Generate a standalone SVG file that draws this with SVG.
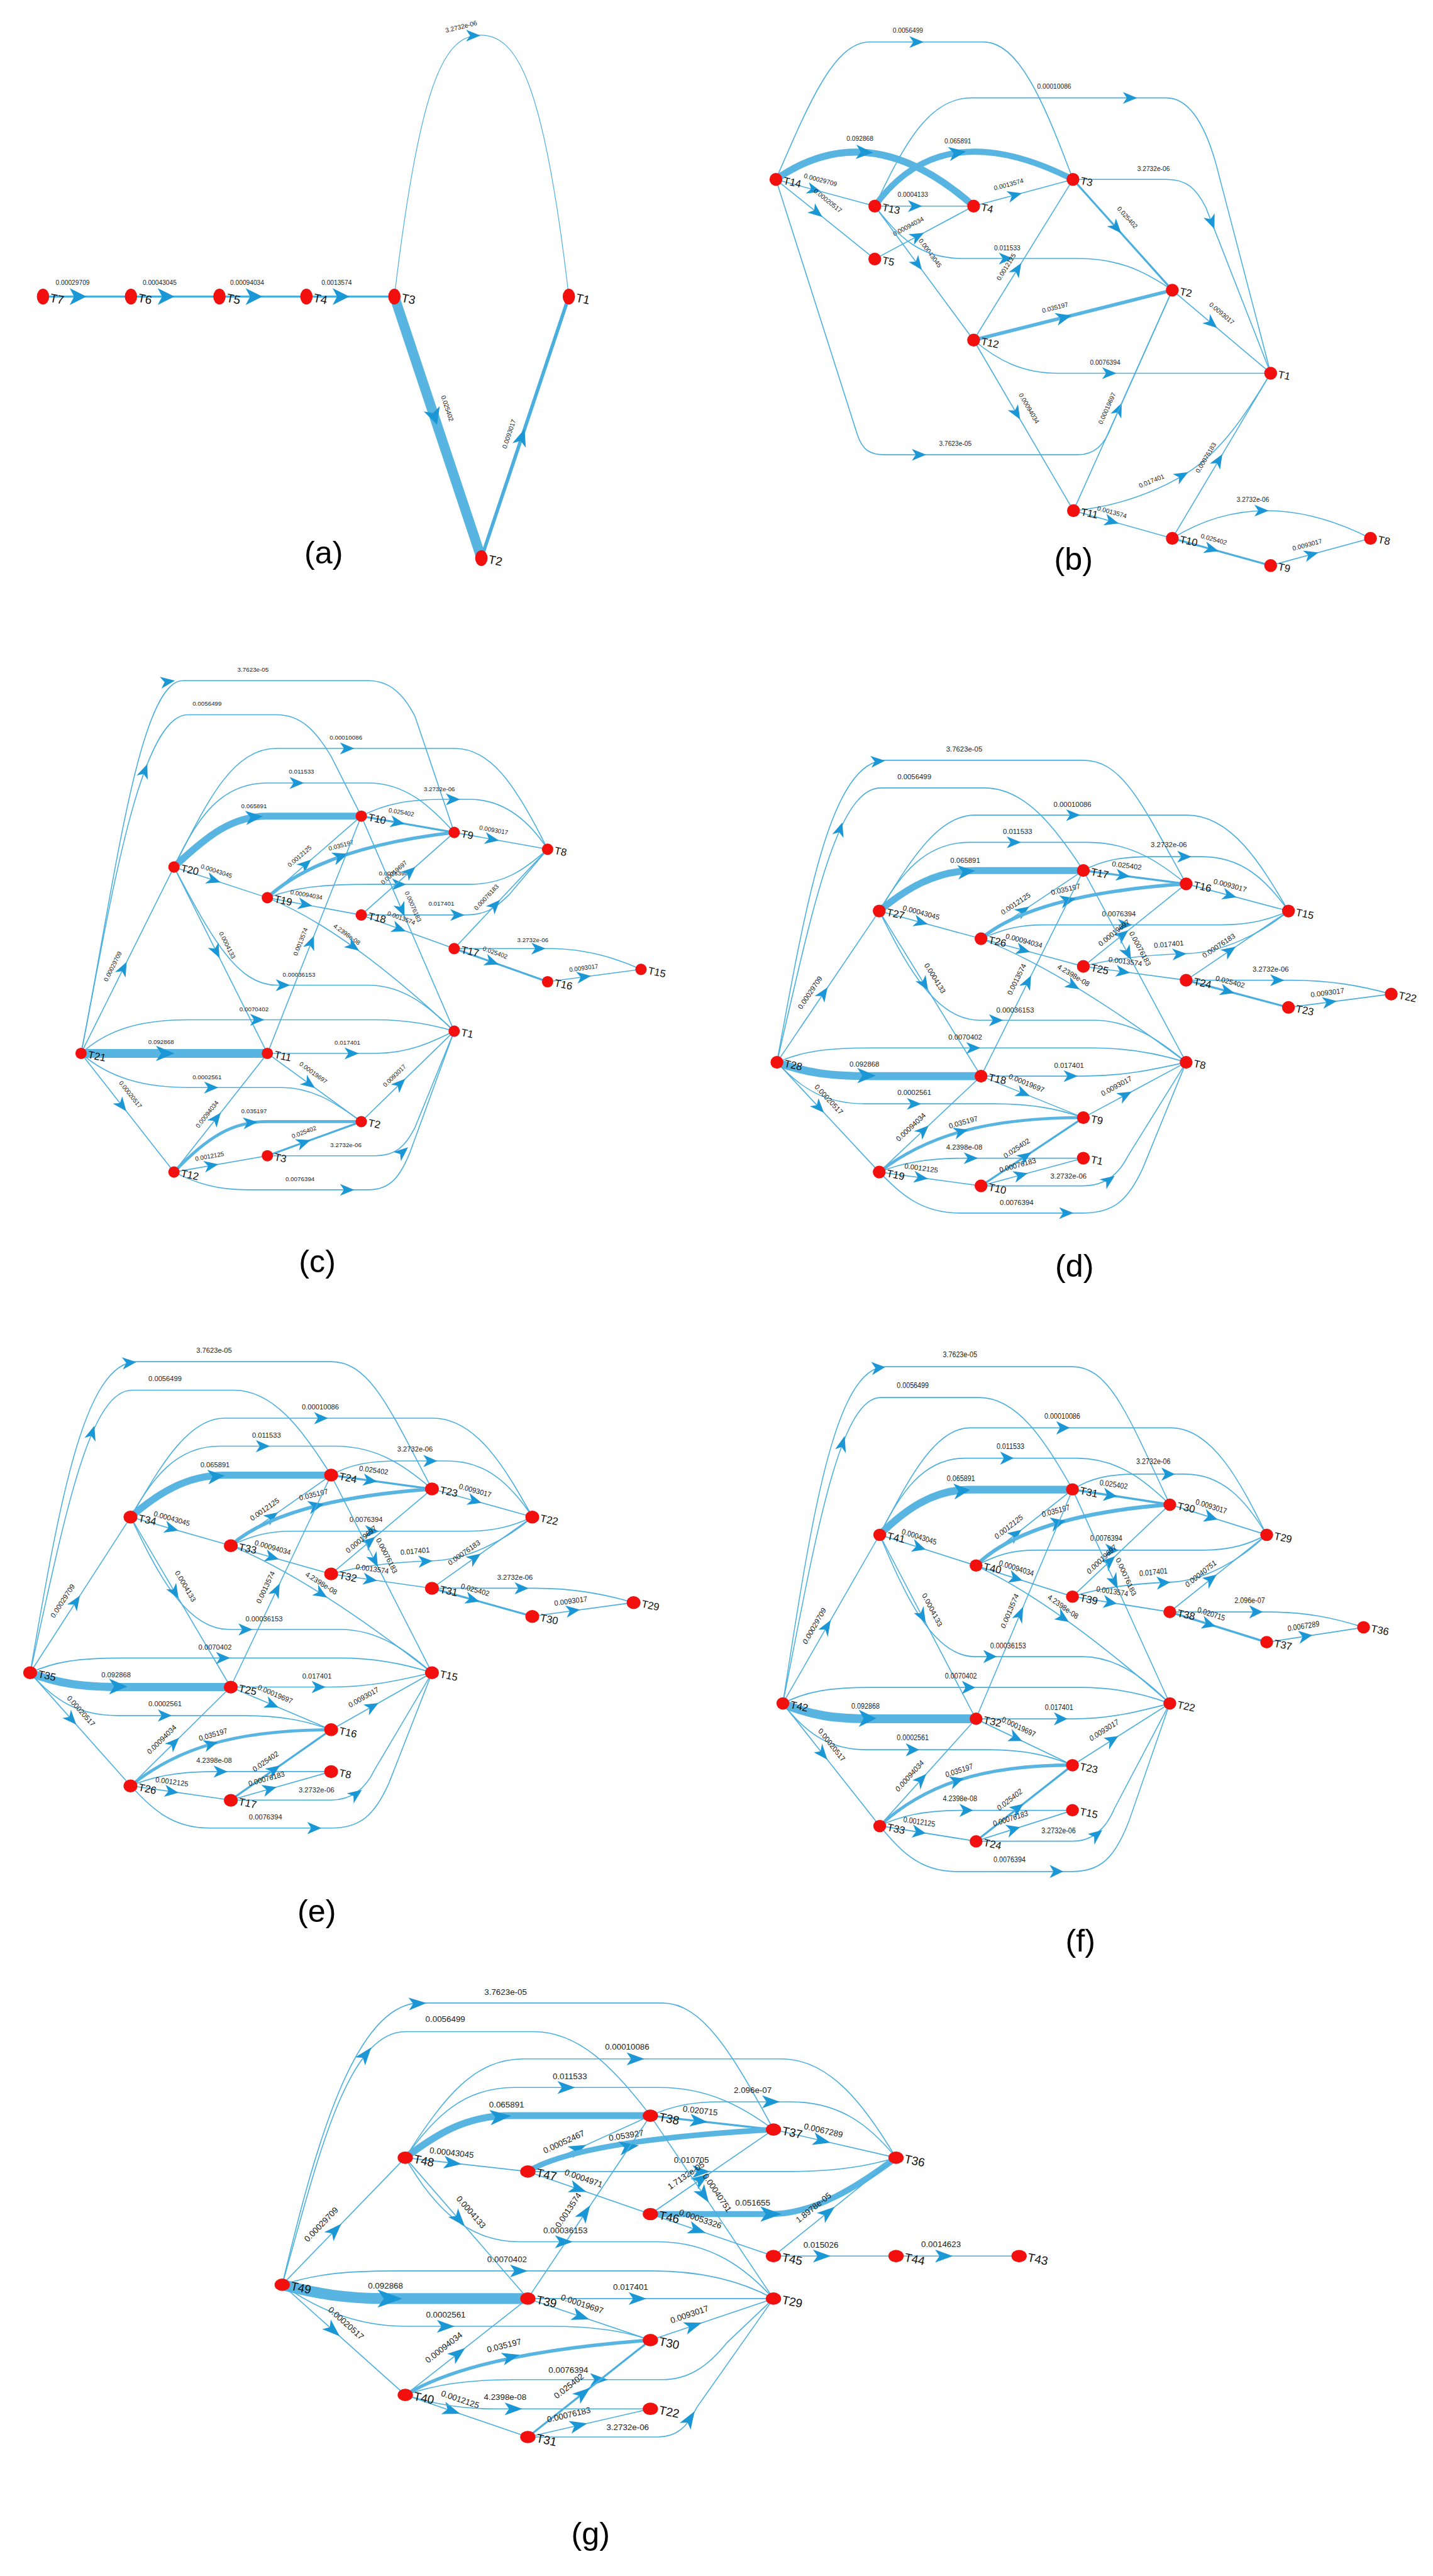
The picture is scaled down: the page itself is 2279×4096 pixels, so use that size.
<svg xmlns="http://www.w3.org/2000/svg" width="2279" height="4096" viewBox="0 0 2279 4096">
<style>
.e{fill:none;stroke:#4aafdf;stroke-width:2}
.w4{stroke-width:4}
.w7{stroke-width:7}
.tk{stroke:#58b5e1}
.ah{fill:#1b97d5}
.el{font-family:"Liberation Sans",Arial,sans-serif;fill:#222;text-anchor:middle;dominant-baseline:central}
.fa{font-size:13px}.fb{font-size:13px}.fc{font-size:12.5px}.ft{font-size:14.5px}.fg{font-size:17px}
.nd{fill:#f2100e}
.nl{font-family:"Liberation Sans",Arial,sans-serif;fill:#111;font-size:21px}
.na{font-size:24px}.ng{font-size:24px}
.pl{font-family:"Liberation Sans",Arial,sans-serif;font-size:64px;fill:#000;text-anchor:middle}
</style>
<defs>
<path id="ar" d="M14,0 L-15,-12 L-7,0 L-15,12 Z"/>
<path id="arA" d="M17,0 L-17,-17 L-8,0 L-17,17 Z"/>
<path id="arG" d="M18,0 L-18,-13 L-9,0 L-18,13 Z"/>
<g id="tpl">
<path class="e" d="M0,0 C70,-300 120,-555 210,-555 L420,-555 C500,-555 560,-480 620,-388"/>
<use href="#ar" class="ah" transform="translate(128,-472) rotate(-72)"/>
<text class="el ft" x="278" y="-578">0.0056499</text>
<path class="e" d="M0,0 C60,-330 110,-611 220,-611 L620,-611 C700,-611 740,-520 828,-361"/>
<use href="#ar" class="ah" transform="translate(205,-609) rotate(-5)"/>
<text class="el ft" x="379" y="-634">3.7623e-05</text>
<path class="e" d="M207,-306 C260,-390 320,-500 400,-500 L830,-500 C920,-500 980,-400 1035,-306"/>
<use href="#ar" class="ah" transform="translate(600,-500)"/>
<text class="el ft" x="598" y="-522">0.00010086</text>
<path class="e" d="M207,-306 C250,-380 300,-445 390,-445 L630,-445 C720,-445 780,-400 828,-361"/>
<use href="#ar" class="ah" transform="translate(480,-445)"/>
<text class="el ft" x="487" y="-467">0.011533</text>
<path class="e" d="M620,-388 C660,-410 700,-416 760,-416 L860,-416 C940,-416 990,-370 1035,-306"/>
<use href="#ar" class="ah" transform="translate(825,-416)"/>
<text class="el ft" x="793" y="-440">3.2732e-06</text>
<path class="e tk" style="stroke-width:14" d="M207,-306 C260,-350 320,-388 400,-388 L620,-388"/>
<use href="#ar" class="ah" transform="translate(384,-386) rotate(-5) scale(1.2)"/>
<text class="el ft" x="381" y="-409">0.065891</text>
<path class="e w4" d="M620,-388 L828,-361"/>
<use href="#ar" class="ah" transform="translate(701,-377.5) rotate(7.4)"/>
<text class="el ft" transform="translate(708,-398) rotate(7.4)">0.025402</text>
<path class="e" d="M828,-361 L1035,-306"/>
<use href="#ar" class="ah" transform="translate(916.6,-337.5) rotate(14.9)"/>
<text class="el ft" transform="translate(917,-358) rotate(14.9)">0.0093017</text>
<path class="e" d="M207,-306 L413,-250"/>
<use href="#ar" class="ah" transform="translate(292,-283) rotate(15.2)"/>
<text class="el ft" transform="translate(292,-303) rotate(15.2)">0.00043045</text>
<path class="e" d="M413,-250 L620,-388"/>
<use href="#ar" class="ah" transform="translate(499,-307.3) rotate(-33.7)"/>
<text class="el ft" transform="translate(483,-321) rotate(-33.7)">0.0012125</text>
<path class="e tk w7" d="M413,-250 Q520,-340 828,-361"/>
<use href="#ar" class="ah" transform="translate(590,-328) rotate(-13) scale(1.1)"/>
<text class="el ft" transform="translate(584,-350) rotate(-13)">0.035197</text>
<path class="e" d="M413,-250 C460,-270 490,-278 540,-278 L900,-278 C960,-278 1000,-290 1035,-306"/>
<use href="#ar" class="ah" transform="translate(705,-278)"/>
<text class="el ft" x="692" y="-301">0.0076394</text>
<path class="e" d="M620,-194 L828,-361"/>
<use href="#ar" class="ah" transform="translate(700,-258.2) rotate(-38.8)"/>
<text class="el ft" transform="translate(682,-262) rotate(-38.8)">0.00019697</text>
<path class="e" d="M413,-250 L620,-194"/>
<use href="#ar" class="ah" transform="translate(499,-226.7) rotate(15.1)"/>
<text class="el ft" transform="translate(500,-246) rotate(15.1)">0.00094034</text>
<path class="e" d="M620,-194 C680,-210 760,-218 830,-220 C900,-222 980,-260 1035,-306"/>
<use href="#ar" class="ah" transform="translate(815,-219) rotate(-3)"/>
<text class="el ft" transform="translate(793,-239) rotate(-5)">0.017401</text>
<path class="e" d="M620,-388 L828,0"/>
<use href="#ar" class="ah" transform="translate(710,-220) rotate(61.8)"/>
<text class="el ft" transform="translate(735,-230) rotate(61.8)">0.00076183</text>
<path class="e" d="M620,-194 L828,-166"/>
<use href="#ar" class="ah" transform="translate(701,-183) rotate(7.7)"/>
<text class="el ft" transform="translate(705,-204) rotate(7.7)">0.0013574</text>
<path class="e" d="M828,-166 L1035,-306"/>
<use href="#ar" class="ah" transform="translate(916.6,-226) rotate(-34)"/>
<path class="e" d="M828,-166 L1040,-166 C1120,-166 1180,-155 1243,-138"/>
<use href="#ar" class="ah" transform="translate(1013,-166)"/>
<path class="e w4" d="M828,-166 L1035,-111"/>
<use href="#ar" class="ah" transform="translate(912,-143.7) rotate(14.9)"/>
<path class="e" d="M1035,-111 L1243,-138"/>
<use href="#ar" class="ah" transform="translate(1119,-122) rotate(-7.4)"/>
<path class="e" d="M413,-250 Q580,-185 828,0"/>
<use href="#ar" class="ah" transform="translate(600,-155) rotate(31)"/>
<text class="el ft" transform="translate(600,-176) rotate(31)">4.2398e-08</text>
<path class="e" d="M413,28 L620,-388"/>
<use href="#ar" class="ah" transform="translate(508,-163) rotate(-63.5)"/>
<text class="el ft" transform="translate(485,-168) rotate(-63.5)">0.0013574</text>
<path class="e" d="M207,-306 C260,-200 320,-85 410,-85 L640,-85 C720,-85 780,-40 828,0"/>
<use href="#ar" class="ah" transform="translate(444,-85)"/>
<text class="el ft" x="482" y="-106">0.00036153</text>
<path class="e" d="M207,-306 L413,28"/>
<use href="#ar" class="ah" transform="translate(298.5,-157.6) rotate(58.3)"/>
<text class="el ft" transform="translate(320,-170) rotate(58.3)">0.0004133</text>
<path class="e" d="M0,0 L207,-306"/>
<use href="#ar" class="ah" transform="translate(94.6,-139.8) rotate(-55.9)"/>
<text class="el ft" transform="translate(67,-141) rotate(-55.9)">0.00029709</text>
<path class="e tk" style="stroke-width:16" d="M0,0 C60,22 110,28 190,28 L413,28"/>
<use href="#ar" class="ah" transform="translate(182,27) scale(1.3)"/>
<text class="el ft" x="177" y="4">0.092868</text>
<path class="e" d="M0,0 C50,-22 100,-29 190,-29 L640,-29 C720,-29 780,-15 828,0"/>
<use href="#ar" class="ah" transform="translate(398,-29)"/>
<text class="el ft" x="381" y="-51">0.0070402</text>
<path class="e" d="M413,28 L620,28 C700,28 760,15 828,0"/>
<use href="#ar" class="ah" transform="translate(595,28)"/>
<text class="el ft" x="591" y="6">0.017401</text>
<path class="e" d="M413,28 L620,112"/>
<use href="#ar" class="ah" transform="translate(499,62.9) rotate(22.1)"/>
<text class="el ft" transform="translate(505,42) rotate(22.1)">0.00019697</text>
<path class="e" d="M0,0 C50,55 100,84 180,84 L440,84 C520,84 570,95 620,112"/>
<use href="#ar" class="ah" transform="translate(278,84)"/>
<text class="el ft" x="278" y="61">0.0002561</text>
<path class="e" d="M0,0 L207,222"/>
<use href="#ar" class="ah" transform="translate(85.5,91.7) rotate(47)"/>
<text class="el ft" transform="translate(105,75) rotate(47)">0.00020517</text>
<path class="e" d="M207,222 L413,28"/>
<use href="#ar" class="ah" transform="translate(296.7,137.5) rotate(-43.3)"/>
<text class="el ft" transform="translate(271,131) rotate(-43.3)">0.00094034</text>
<path class="e tk" style="stroke-width:6" d="M207,222 C300,150 420,112 620,112"/>
<use href="#ar" class="ah" transform="translate(373,140) rotate(-15.5)"/>
<text class="el ft" transform="translate(377,121) rotate(-15.5)">0.035197</text>
<path class="e" d="M207,222 C250,205 300,194 380,194 L620,194"/>
<use href="#ar" class="ah" transform="translate(393,194)"/>
<text class="el ft" x="379" y="172">4.2398e-08</text>
<path class="e w4" d="M413,250 L620,112"/>
<use href="#ar" class="ah" transform="translate(503,190) rotate(-33.7)"/>
<text class="el ft" transform="translate(485,174) rotate(-33.7)">0.025402</text>
<path class="e" d="M413,250 L620,194"/>
<use href="#ar" class="ah" transform="translate(494,228) rotate(-15.1)"/>
<text class="el ft" transform="translate(487,208) rotate(-15.1)">0.00076183</text>
<path class="e" d="M207,222 L413,250"/>
<use href="#ar" class="ah" transform="translate(292,233.6) rotate(7.7)"/>
<text class="el ft" transform="translate(292,214) rotate(7.7)">0.0012125</text>
<path class="e" d="M413,250 L620,250 C660,250 690,230 710,190 L828,0"/>
<use href="#ar" class="ah" transform="translate(672,238) rotate(-35)"/>
<text class="el ft" x="590" y="230">3.2732e-06</text>
<path class="e" d="M207,222 C250,265 290,305 370,305 L620,305 C680,305 710,280 740,215 L828,0"/>
<use href="#ar" class="ah" transform="translate(586,305)"/>
<text class="el ft" x="485" y="283">0.0076394</text>
<path class="e" d="M620,112 L828,0"/>
<use href="#ar" class="ah" transform="translate(705.4,66) rotate(-28.3)"/>
<text class="el ft" transform="translate(687,48) rotate(-28.3)">0.0093017</text>
</g>
</defs>
<rect width="2279" height="4096" fill="#ffffff"/>
<g transform="scale(0.786)">

<g id="connectors">
<g id="conn-a">
<path class="e" style="stroke-width:4" d="M87,600 L265,600"/>
<path class="e" style="stroke-width:4" d="M265,600 L444,600"/>
<path class="e" style="stroke-width:4" d="M444,600 L620,600"/>
<path class="e" style="stroke-width:4" d="M620,600 L798,600"/>
<path class="e" style="stroke-width:1.5" d="M798,600 C850,160 900,71 972,71 C1045,71 1100,160 1151,600"/>
<path class="e tk" style="stroke-width:20" d="M798,600 L974,1129"/>
<path class="e" style="stroke-width:7" d="M974,1129 L1151,600"/>
<use href="#arA" class="ah" transform="translate(158,600)"/>
<use href="#arA" class="ah" transform="translate(336,600)"/>
<use href="#arA" class="ah" transform="translate(514,600)"/>
<use href="#arA" class="ah" transform="translate(690,600)"/>
<use href="#ar" class="ah" transform="translate(958,72)"/>
<use href="#arA" class="ah" transform="translate(879,843) rotate(71.6)"/>
<use href="#ar" class="ah" transform="translate(1056,884) rotate(-71.5) scale(1.2)"/>
<text class="el fa" x="147" y="572">0.00029709</text>
<text class="el fa" x="323" y="572">0.00043045</text>
<text class="el fa" x="500" y="572">0.00094034</text>
<text class="el fa" x="681" y="572">0.0013574</text>
<text class="el fa" transform="translate(933,54) rotate(-14)">3.2732e-06</text>
<text class="el fa" transform="translate(905,826) rotate(71.6)">0.025402</text>
<text class="el fa" transform="translate(1030,878) rotate(-71.5)">0.0093017</text>
</g>

<g id="conn-b">
<path class="e" d="M1570,363 C1640,200 1690,85 1760,85 L1990,85 C2060,85 2110,200 2171,363"/>
<use href="#ar" class="ah" transform="translate(1855,85)"/>
<text class="el fb" x="1837" y="62">0.0056499</text>
<path class="e" d="M1770,417 C1830,290 1880,198 1965,198 L2360,198 C2410,198 2440,260 2460,330 L2571,755"/>
<use href="#ar" class="ah" transform="translate(2287,198)"/>
<text class="el fb" x="2133" y="175">0.00010086</text>
<path class="e tk" style="stroke-width:14" d="M1570,363 Q1760,230 1970,417"/>
<use href="#ar" class="ah" transform="translate(1750,308) rotate(3) scale(1.2)"/>
<text class="el fb" x="1740" y="280">0.092868</text>
<path class="e tk" style="stroke-width:12" d="M1770,417 Q1905,228 2171,363"/>
<use href="#ar" class="ah" transform="translate(1938,309) rotate(-8) scale(1.2)"/>
<text class="el fb" x="1938" y="286">0.065891</text>
<path class="e" d="M1570,363 L1770,417"/>
<use href="#ar" class="ah" transform="translate(1648,384) rotate(15.1)"/>
<text class="el fb" transform="translate(1660,364) rotate(15.1)">0.00029709</text>
<path class="e" d="M1570,363 L1770,524"/>
<use href="#ar" class="ah" transform="translate(1653,430) rotate(38.8)"/>
<text class="el fb" transform="translate(1675,406) rotate(38.8)">0.00020517</text>
<path class="e" d="M1770,417 L1970,417"/>
<use href="#ar" class="ah" transform="translate(1852,417)"/>
<text class="el fb" x="1847" y="394">0.0004133</text>
<path class="e" d="M1770,524 L1970,417"/>
<use href="#ar" class="ah" transform="translate(1857,477.5) rotate(-28.1)"/>
<text class="el fb" transform="translate(1838,458) rotate(-28.1)">0.00094034</text>
<path class="e" d="M1770,417 L1970,688"/>
<use href="#ar" class="ah" transform="translate(1857,535) rotate(53.6)"/>
<text class="el fb" transform="translate(1882,512) rotate(53.6)">0.00043045</text>
<path class="e" d="M1970,417 L2171,363"/>
<use href="#ar" class="ah" transform="translate(2054,394.5) rotate(-15)"/>
<text class="el fb" transform="translate(2041,373) rotate(-15)">0.0013574</text>
<path class="e" d="M1770,417 C1820,480 1860,523 1950,523 L2180,523 C2260,523 2310,545 2372,587"/>
<use href="#ar" class="ah" transform="translate(2036,523)"/>
<text class="el fb" x="2038" y="502">0.011533</text>
<path class="e" d="M1970,688 L2171,363"/>
<use href="#ar" class="ah" transform="translate(2059,544) rotate(-58.3)"/>
<text class="el fb" transform="translate(2036,540) rotate(-58.3)">0.0012125</text>
<path class="e w4" d="M2171,363 L2372,587"/>
<use href="#ar" class="ah" transform="translate(2259,461) rotate(48.1)"/>
<text class="el fb" transform="translate(2281,440) rotate(48.1)">0.025402</text>
<path class="e" d="M2171,363 L2360,363 C2400,363 2420,380 2440,420 L2571,755"/>
<use href="#ar" class="ah" transform="translate(2452,450) rotate(68.6)"/>
<text class="el fb" x="2334" y="342">3.2732e-06</text>
<path class="e tk w7" d="M1970,688 L2372,587"/>
<use href="#ar" class="ah" transform="translate(2153,642) rotate(-14.1) scale(1.1)"/>
<text class="el fb" transform="translate(2135,622) rotate(-14.1)">0.035197</text>
<path class="e" d="M2372,587 L2571,755"/>
<use href="#ar" class="ah" transform="translate(2452,654.5) rotate(40.2)"/>
<text class="el fb" transform="translate(2472,634) rotate(40.2)">0.0093017</text>
<path class="e" d="M1970,688 C2020,730 2070,755 2140,755 L2571,755"/>
<use href="#ar" class="ah" transform="translate(2245,755)"/>
<text class="el fb" x="2236" y="733">0.0076394</text>
<path class="e" d="M1970,688 L2172,1033"/>
<use href="#ar" class="ah" transform="translate(2057,836.6) rotate(59.7)"/>
<text class="el fb" transform="translate(2082,826) rotate(59.7)">0.00094034</text>
<path class="e" d="M2172,1033 L2372,587"/>
<use href="#ar" class="ah" transform="translate(2264,828) rotate(-65.8)"/>
<text class="el fb" transform="translate(2240,826) rotate(-65.8)">0.00019697</text>
<path class="e" d="M1570,363 L1735,880 C1745,910 1760,920 1790,920 L2180,920 C2215,920 2235,900 2250,860 L2372,587"/>
<use href="#ar" class="ah" transform="translate(1860,920)"/>
<text class="el fb" x="1933" y="898">3.7623e-05</text>
<path class="e" d="M2172,1033 C2260,1025 2340,995 2400,958 C2470,915 2520,840 2571,755"/>
<use href="#ar" class="ah" transform="translate(2392,962) rotate(-30)"/>
<text class="el fb" transform="translate(2330,973) rotate(-22)">0.017401</text>
<path class="e" d="M2172,1033 L2372,1089"/>
<use href="#ar" class="ah" transform="translate(2250,1055) rotate(15.6)"/>
<text class="el fb" transform="translate(2250,1036) rotate(15.6)">0.0013574</text>
<path class="e" d="M2372,1089 L2571,755"/>
<use href="#ar" class="ah" transform="translate(2466,931) rotate(-59.2)"/>
<text class="el fb" transform="translate(2440,926) rotate(-59.2)">0.00076183</text>
<path class="e" d="M2372,1089 Q2552,977 2773,1089"/>
<use href="#ar" class="ah" transform="translate(2553,1033)"/>
<text class="el fb" x="2535" y="1011">3.2732e-06</text>
<path class="e w4" d="M2372,1089 L2571,1144"/>
<use href="#ar" class="ah" transform="translate(2452,1111) rotate(15.4)"/>
<text class="el fb" transform="translate(2456,1091) rotate(15.4)">0.025402</text>
<path class="e" d="M2571,1144 L2773,1089"/>
<use href="#ar" class="ah" transform="translate(2654,1121.4) rotate(-15.2)"/>
<text class="el fb" transform="translate(2645,1102) rotate(-15.2)">0.0093017</text>
</g>

<g id="conn-c">
<path class="e" d="M164,2131 C220,1850 280,1446 380,1446 L560,1446 C610,1446 640,1480 670,1530 L731,1651"/>
<use href="#ar" class="ah" transform="translate(293,1559) rotate(-69)"/>
<text class="el fc" x="419" y="1423">0.0056499</text>
<path class="e" d="M164,2131 C230,1800 280,1377 370,1377 L745,1377 C785,1377 815,1400 840,1450 L919,1684"/>
<use href="#ar" class="ah" transform="translate(340,1379) rotate(-8)"/>
<text class="el fc" x="512" y="1354">3.7623e-05</text>
<path class="e" d="M352,1754 C420,1620 470,1514 560,1514 L920,1514 C990,1514 1040,1580 1108,1718"/>
<use href="#ar" class="ah" transform="translate(703,1514)"/>
<text class="el fc" x="700" y="1492">0.00010086</text>
<path class="e" d="M352,1754 C400,1650 450,1584 540,1584 L745,1584 C820,1584 870,1630 919,1684"/>
<use href="#ar" class="ah" transform="translate(601,1584)"/>
<text class="el fc" x="610" y="1561">0.011533</text>
<path class="e" d="M731,1651 C780,1625 830,1617 900,1617 L950,1617 C1020,1617 1070,1660 1108,1718"/>
<use href="#ar" class="ah" transform="translate(917,1617)"/>
<text class="el fc" x="889" y="1596">3.2732e-06</text>
<path class="e tk" style="stroke-width:14" d="M352,1754 C420,1690 470,1651 540,1651 L731,1651"/>
<use href="#ar" class="ah" transform="translate(515,1653) rotate(-5) scale(1.2)"/>
<text class="el fc" x="514" y="1630">0.065891</text>
<path class="e w4" d="M731,1651 L919,1684"/>
<use href="#ar" class="ah" transform="translate(805,1664) rotate(10)"/>
<text class="el fc" transform="translate(812,1643) rotate(10)">0.025402</text>
<path class="e" d="M919,1684 L1108,1718"/>
<use href="#ar" class="ah" transform="translate(996,1698) rotate(10.2)"/>
<text class="el fc" transform="translate(999,1679) rotate(10.2)">0.0093017</text>
<path class="e" d="M352,1754 L541,1816"/>
<use href="#ar" class="ah" transform="translate(433,1780.6) rotate(18.2)"/>
<text class="el fc" transform="translate(438,1762) rotate(18.2)">0.00043045</text>
<path class="e" d="M541,1816 L731,1651"/>
<use href="#ar" class="ah" transform="translate(619,1748) rotate(-41)"/>
<text class="el fc" transform="translate(606,1732) rotate(-41)">0.0012125</text>
<path class="e tk w7" d="M541,1816 Q650,1715 919,1684"/>
<use href="#ar" class="ah" transform="translate(690,1732) rotate(-19) scale(1.1)"/>
<text class="el fc" transform="translate(690,1710) rotate(-15)">0.035197</text>
<path class="e" d="M541,1816 C600,1795 650,1789 745,1789 L950,1789 C1020,1789 1060,1760 1108,1718"/>
<use href="#ar" class="ah" transform="translate(808,1789)"/>
<text class="el fc" x="796" y="1766">0.0076394</text>
<path class="e" d="M731,1851 L919,1684"/>
<use href="#ar" class="ah" transform="translate(830,1763) rotate(-41.6)"/>
<text class="el fc" transform="translate(797,1765) rotate(-41.6)">0.00019697</text>
<path class="e" d="M541,1816 L731,1851"/>
<use href="#ar" class="ah" transform="translate(618,1830) rotate(10.4)"/>
<text class="el fc" transform="translate(620,1810) rotate(10.4)">0.00094034</text>
<path class="e" d="M731,1851 L940,1851 C980,1851 1000,1840 1030,1810 L1108,1718"/>
<use href="#ar" class="ah" transform="translate(926,1851)"/>
<text class="el fc" x="893" y="1827">0.017401</text>
<path class="e" d="M731,1651 L919,2086"/>
<use href="#ar" class="ah" transform="translate(813,1841) rotate(66.6)"/>
<text class="el fc" transform="translate(836,1834) rotate(66.6)">0.00076183</text>
<path class="e" d="M731,1851 L919,1919"/>
<use href="#ar" class="ah" transform="translate(808,1879) rotate(19.9)"/>
<text class="el fc" transform="translate(812,1857) rotate(19.9)">0.0013574</text>
<path class="e" d="M919,1919 L1108,1718"/>
<use href="#ar" class="ah" transform="translate(1002,1830.7) rotate(-46.8)"/>
<text class="el fc" transform="translate(984,1815) rotate(-46.8)">0.00076183</text>
<path class="e" d="M919,1919 L1110,1919 C1180,1919 1240,1935 1297,1961"/>
<use href="#ar" class="ah" transform="translate(1090,1919)"/>
<text class="el fc" x="1078" y="1901">3.2732e-06</text>
<path class="e w4" d="M919,1919 L1108,1986"/>
<use href="#ar" class="ah" transform="translate(996,1946.3) rotate(19.5)"/>
<text class="el fc" transform="translate(1002,1927) rotate(19.5)">0.025402</text>
<path class="e" d="M1108,1986 L1297,1961"/>
<use href="#ar" class="ah" transform="translate(1182,1976) rotate(-7.5)"/>
<text class="el fc" transform="translate(1181,1958) rotate(-7.5)">0.0093017</text>
<path class="e" d="M541,1816 Q700,1880 919,2086"/>
<use href="#ar" class="ah" transform="translate(715,1915) rotate(35.5)"/>
<text class="el fc" transform="translate(702,1890) rotate(35.5)">4.2398e-08</text>
<path class="e" d="M541,2131 L731,1651"/>
<use href="#ar" class="ah" transform="translate(630,1906) rotate(-68.4)"/>
<text class="el fc" transform="translate(608,1905) rotate(-68.4)">0.0013574</text>
<path class="e" d="M352,1754 C430,1900 480,1993 560,1993 L745,1993 C820,1993 870,2040 919,2086"/>
<use href="#ar" class="ah" transform="translate(573,1993)"/>
<text class="el fc" x="605" y="1972">0.00036153</text>
<path class="e" d="M352,1754 L541,2131"/>
<use href="#ar" class="ah" transform="translate(438,1925.5) rotate(63.4)"/>
<text class="el fc" transform="translate(460,1912) rotate(63.4)">0.0004133</text>
<path class="e" d="M164,2131 L352,1754"/>
<use href="#ar" class="ah" transform="translate(250,1958.5) rotate(-63.5)"/>
<text class="el fc" transform="translate(228,1955) rotate(-63.5)">0.00029709</text>
<path class="e tk" style="stroke-width:18" d="M164,2131 L541,2131"/>
<use href="#ar" class="ah" transform="translate(335,2131) scale(1.3)"/>
<text class="el fc" x="326" y="2108">0.092868</text>
<path class="e" d="M164,2131 C220,2080 290,2063 380,2063 L760,2063 C830,2063 880,2075 919,2086"/>
<use href="#ar" class="ah" transform="translate(521,2063)"/>
<text class="el fc" x="514" y="2041">0.0070402</text>
<path class="e" d="M541,2131 L760,2131 C830,2131 880,2105 919,2086"/>
<use href="#ar" class="ah" transform="translate(712,2131)"/>
<text class="el fc" x="703" y="2109">0.017401</text>
<path class="e" d="M541,2131 L731,2269"/>
<use href="#ar" class="ah" transform="translate(626,2192.7) rotate(36)"/>
<text class="el fc" transform="translate(634,2170) rotate(36)">0.00019697</text>
<path class="e" d="M164,2131 C220,2180 290,2200 380,2200 L570,2200 C640,2200 690,2240 731,2269"/>
<use href="#ar" class="ah" transform="translate(428,2200)"/>
<text class="el fc" x="419" y="2179">0.0002561</text>
<path class="e" d="M164,2131 L352,2371"/>
<use href="#ar" class="ah" transform="translate(247,2237) rotate(51.9)"/>
<text class="el fc" transform="translate(264,2214) rotate(51.9)">0.00020517</text>
<path class="e" d="M352,2371 L541,2131"/>
<use href="#ar" class="ah" transform="translate(438,2262) rotate(-51.8)"/>
<text class="el fc" transform="translate(419,2254) rotate(-51.8)">0.00094034</text>
<path class="e tk" style="stroke-width:6" d="M352,2371 C420,2300 470,2269 540,2269 L731,2269"/>
<use href="#ar" class="ah" transform="translate(507,2271) rotate(-5)"/>
<text class="el fc" x="514" y="2248">0.035197</text>
<path class="e w4" d="M541,2338 L731,2269"/>
<use href="#ar" class="ah" transform="translate(615,2311) rotate(-20)"/>
<text class="el fc" transform="translate(615,2290) rotate(-20)">0.025402</text>
<path class="e" d="M352,2371 L541,2338"/>
<use href="#ar" class="ah" transform="translate(428,2357.7) rotate(-9.9)"/>
<text class="el fc" transform="translate(424,2339) rotate(-9.9)">0.0012125</text>
<path class="e" d="M541,2338 L760,2338 C800,2338 820,2320 840,2280 L919,2086"/>
<use href="#ar" class="ah" transform="translate(815,2330) rotate(-40)"/>
<text class="el fc" x="700" y="2316">3.2732e-06</text>
<path class="e" d="M352,2371 C400,2395 440,2407 500,2407 L745,2407 C790,2407 810,2380 830,2330 L919,2086"/>
<use href="#ar" class="ah" transform="translate(703,2407)"/>
<text class="el fc" x="607" y="2385">0.0076394</text>
<path class="e" d="M731,2269 L919,2086"/>
<use href="#ar" class="ah" transform="translate(810,2192) rotate(-44.2)"/>
<text class="el fc" transform="translate(798,2176) rotate(-44.2)">0.0093017</text>
</g>

<g id="conn-d">
<use href="#tpl" transform="translate(1572,2149)"/>
<g transform="translate(1572,2149)">
<text class="el ft" transform="translate(894,-236) rotate(-34)">0.00076183</text>
<text class="el ft" x="999" y="-188">3.2732e-06</text>
<text class="el ft" transform="translate(917,-163) rotate(14.9)">0.025402</text>
<text class="el ft" transform="translate(1114,-141) rotate(-7.4)">0.0093017</text>
</g>
</g>
<g id="conn-e">
<use href="#tpl" transform="translate(61,3384) scale(0.982,1.03)"/>
<g transform="translate(61,3384) scale(0.982,1.03)">
<text class="el ft" transform="translate(894,-236) rotate(-34)">0.00076183</text>
<text class="el ft" x="999" y="-188">3.2732e-06</text>
<text class="el ft" transform="translate(917,-163) rotate(14.9)">0.025402</text>
<text class="el ft" transform="translate(1114,-141) rotate(-7.4)">0.0093017</text>
</g>
</g>
<g id="conn-f">
<use href="#tpl" transform="translate(1584,3446) scale(0.9455,1.115)"/>
<g transform="translate(1584,3446) scale(0.9455,1.115)">
<text class="el ft" transform="translate(894,-236) rotate(-34)">0.00040751</text>
<text class="el ft" x="999" y="-188">2.096e-07</text>
<text class="el ft" transform="translate(917,-163) rotate(14.9)">0.020715</text>
<text class="el ft" transform="translate(1114,-141) rotate(-7.4)">0.0067289</text>
</g>
</g>

<g id="conn-g">
<path class="e" d="M571,4622 C640,4380 700,4110 820,4110 L1080,4110 C1170,4110 1240,4180 1316,4280"/>
<use href="#arG" class="ah" transform="translate(740,4156) rotate(-51)"/>
<text class="el fg" x="901" y="4085">0.0056499</text>
<path class="e" d="M571,4622 C640,4330 720,4052 850,4052 L1340,4052 C1420,4052 1480,4150 1565,4308"/>
<use href="#arG" class="ah" transform="translate(845,4053) rotate(-3)"/>
<text class="el fg" x="1023" y="4030">3.7623e-05</text>
<path class="e" d="M820,4365 C900,4240 960,4165 1060,4165 L1580,4165 C1680,4165 1750,4260 1813,4365"/>
<use href="#arG" class="ah" transform="translate(1286,4165)"/>
<text class="el fg" x="1269" y="4141">0.00010086</text>
<path class="e" d="M820,4365 C880,4280 940,4223 1040,4223 L1336,4223 C1430,4223 1500,4260 1565,4308"/>
<use href="#arG" class="ah" transform="translate(1146,4223)"/>
<text class="el fg" x="1153" y="4200">0.011533</text>
<path class="e" d="M1316,4280 C1360,4260 1400,4252 1460,4252 L1600,4252 C1700,4252 1760,4300 1813,4365"/>
<use href="#arG" class="ah" transform="translate(1560,4252)"/>
<text class="el fg" x="1523" y="4228">2.096e-07</text>
<path class="e tk" style="stroke-width:14" d="M820,4365 C880,4320 940,4280 1030,4280 L1316,4280"/>
<use href="#arG" class="ah" transform="translate(1013,4282) rotate(-5) scale(1.2)"/>
<text class="el fg" x="1025" y="4257">0.065891</text>
<path class="e w4" d="M1316,4280 L1565,4308"/>
<use href="#arG" class="ah" transform="translate(1414,4291) rotate(6.4)"/>
<text class="el fg" transform="translate(1417,4270) rotate(6.4)">0.020715</text>
<path class="e" d="M1565,4308 L1813,4365"/>
<use href="#arG" class="ah" transform="translate(1663,4330.5) rotate(12.9)"/>
<text class="el fg" transform="translate(1666,4310) rotate(12.9)">0.0067289</text>
<path class="e" d="M820,4365 L1068,4393"/>
<use href="#arG" class="ah" transform="translate(916,4376) rotate(6.4)"/>
<text class="el fg" transform="translate(914,4355) rotate(6.4)">0.00043045</text>
<path class="e" d="M1068,4393 L1316,4280"/>
<use href="#arG" class="ah" transform="translate(1170,4346.5) rotate(-24.5)"/>
<text class="el fg" transform="translate(1141,4333) rotate(-24.5)">0.00052467</text>
<path class="e tk" style="stroke-width:11" d="M1068,4393 Q1170,4330 1565,4308"/>
<use href="#arG" class="ah" transform="translate(1273,4343) rotate(-9) scale(1.1)"/>
<text class="el fg" transform="translate(1267,4320) rotate(-9)">0.053927</text>
<path class="e" d="M1068,4393 L1600,4393 C1700,4393 1760,4380 1813,4365"/>
<use href="#arG" class="ah" transform="translate(1419,4393)"/>
<text class="el fg" x="1399" y="4370">0.010705</text>
<path class="e" d="M1316,4479 L1565,4308"/>
<use href="#arG" class="ah" transform="translate(1419.5,4408) rotate(-34.5)"/>
<text class="el fg" transform="translate(1388,4401) rotate(-34.5)">1.7132e-05</text>
<path class="e" d="M1068,4393 L1316,4479"/>
<use href="#arG" class="ah" transform="translate(1170,4428.4) rotate(19.1)"/>
<text class="el fg" transform="translate(1181,4407) rotate(19.1)">0.0004971</text>
<path class="e tk" style="stroke-width:12" d="M1316,4479 L1560,4479 C1650,4479 1740,4420 1813,4365"/>
<use href="#arG" class="ah" transform="translate(1560,4479) scale(1.2)"/>
<text class="el fg" x="1523" y="4456">0.051655</text>
<path class="e" d="M1316,4280 L1565,4650"/>
<use href="#arG" class="ah" transform="translate(1424,4440.5) rotate(56.1)"/>
<text class="el fg" transform="translate(1451,4436) rotate(56.1)">0.00040751</text>
<path class="e" d="M1316,4479 L1565,4564"/>
<use href="#arG" class="ah" transform="translate(1411,4511.4) rotate(18.8)"/>
<text class="el fg" transform="translate(1417,4489) rotate(18.8)">0.00053326</text>
<path class="e" d="M1565,4564 L1813,4365"/>
<use href="#arG" class="ah" transform="translate(1675,4475.7) rotate(-38.7)"/>
<text class="el fg" transform="translate(1646,4466) rotate(-38.7)">1.8978e-05</text>
<path class="e" d="M1565,4564 L1813,4564"/>
<use href="#arG" class="ah" transform="translate(1663,4564)"/>
<text class="el fg" x="1661" y="4541">0.015026</text>
<path class="e" d="M1813,4564 L2062,4564"/>
<use href="#arG" class="ah" transform="translate(1910,4564)"/>
<text class="el fg" x="1904" y="4540">0.0014623</text>
<path class="e" d="M1068,4650 L1316,4280"/>
<use href="#arG" class="ah" transform="translate(1184,4476.6) rotate(-56.2)"/>
<text class="el fg" transform="translate(1150,4471) rotate(-56.2)">0.0013574</text>
<path class="e" d="M820,4365 C880,4470 950,4535 1050,4535 L1330,4535 C1440,4535 1510,4590 1565,4650"/>
<use href="#arG" class="ah" transform="translate(1141,4535)"/>
<text class="el fg" x="1144" y="4512">0.00036153</text>
<path class="e" d="M820,4365 L1068,4650"/>
<use href="#arG" class="ah" transform="translate(928.6,4489.8) rotate(49)"/>
<text class="el fg" transform="translate(953,4475) rotate(49)">0.0004133</text>
<path class="e" d="M571,4622 L820,4365"/>
<use href="#arG" class="ah" transform="translate(678,4511.6) rotate(-45.9)"/>
<text class="el fg" transform="translate(650,4500) rotate(-45.9)">0.00029709</text>
<path class="e tk" style="stroke-width:22" d="M571,4622 C640,4640 700,4650 780,4650 L1068,4650"/>
<use href="#arG" class="ah" transform="translate(789,4650) scale(1.4)"/>
<text class="el fg" x="780" y="4624">0.092868</text>
<path class="e" d="M571,4622 C640,4600 700,4594 800,4594 L1320,4594 C1430,4594 1510,4620 1565,4650"/>
<use href="#arG" class="ah" transform="translate(1050,4594)"/>
<text class="el fg" x="1026" y="4571">0.0070402</text>
<path class="e" d="M1068,4650 L1565,4650"/>
<use href="#arG" class="ah" transform="translate(1290,4650)"/>
<text class="el fg" x="1276" y="4627">0.017401</text>
<path class="e" d="M1068,4650 L1316,4734"/>
<use href="#arG" class="ah" transform="translate(1175.5,4686.4) rotate(18.7)"/>
<text class="el fg" transform="translate(1178,4661) rotate(18.7)">0.00019697</text>
<path class="e" d="M571,4622 C640,4670 720,4706 820,4706 L1110,4706 C1200,4706 1260,4715 1316,4734"/>
<use href="#arG" class="ah" transform="translate(902,4706)"/>
<text class="el fg" x="902" y="4682">0.0002561</text>
<path class="e" d="M571,4622 L820,4845"/>
<use href="#arG" class="ah" transform="translate(674,4714) rotate(41.8)"/>
<text class="el fg" transform="translate(700,4700) rotate(41.8)">0.00020517</text>
<path class="e" d="M820,4845 L1068,4650"/>
<use href="#arG" class="ah" transform="translate(927,4761) rotate(-38.2)"/>
<text class="el fg" transform="translate(898,4749) rotate(-38.2)">0.00094034</text>
<path class="e tk w7" d="M820,4845 Q960,4760 1316,4734"/>
<use href="#arG" class="ah" transform="translate(1034,4768) rotate(-14)"/>
<text class="el fg" transform="translate(1020,4745) rotate(-14)">0.035197</text>
<path class="e" d="M820,4845 C880,4825 940,4814 1040,4814 L1340,4814 C1390,4814 1430,4790 1470,4740 L1565,4650"/>
<use href="#arG" class="ah" transform="translate(1212,4814)"/>
<text class="el fg" x="1150" y="4795">0.0076394</text>
<path class="e w4" d="M1068,4930 L1316,4734"/>
<use href="#arG" class="ah" transform="translate(1180,4841.5) rotate(-38.3)"/>
<text class="el fg" transform="translate(1151,4827) rotate(-38.3)">0.025402</text>
<path class="e" d="M1068,4930 L1316,4873"/>
<use href="#arG" class="ah" transform="translate(1171,4906.3) rotate(-12.9)"/>
<text class="el fg" transform="translate(1151,4885) rotate(-12.9)">0.00076183</text>
<path class="e" d="M820,4845 L1068,4930"/>
<use href="#arG" class="ah" transform="translate(914,4877) rotate(18.9)"/>
<text class="el fg" transform="translate(931,4854) rotate(18.9)">0.0012125</text>
<path class="e" d="M820,4845 C870,4860 920,4873 1000,4873 L1316,4873"/>
<use href="#arG" class="ah" transform="translate(1039,4873)"/>
<text class="el fg" x="1022" y="4849">4.2398e-08</text>
<path class="e" d="M1068,4930 L1330,4930 C1370,4930 1390,4910 1410,4870 L1565,4650"/>
<use href="#arG" class="ah" transform="translate(1396,4893) rotate(-58)"/>
<text class="el fg" x="1270" y="4910">3.2732e-06</text>
<path class="e" d="M1316,4734 L1565,4650"/>
<use href="#arG" class="ah" transform="translate(1403,4704.6) rotate(-18.6)"/>
<text class="el fg" transform="translate(1395,4682) rotate(-18.6)">0.0093017</text>
</g>
</g>

<g id="nodes-a">
<g id="a-T7"><ellipse class="nd" cx="87" cy="600" rx="12.5" ry="16"/><text class="nl na" transform="translate(100,610) rotate(12)">T7</text></g>
<g id="a-T6"><ellipse class="nd" cx="265" cy="600" rx="12.5" ry="16"/><text class="nl na" transform="translate(278,610) rotate(12)">T6</text></g>
<g id="a-T5"><ellipse class="nd" cx="444" cy="600" rx="12.5" ry="16"/><text class="nl na" transform="translate(457,610) rotate(12)">T5</text></g>
<g id="a-T4"><ellipse class="nd" cx="620" cy="600" rx="12.5" ry="16"/><text class="nl na" transform="translate(633,610) rotate(12)">T4</text></g>
<g id="a-T3"><ellipse class="nd" cx="798" cy="600" rx="12.5" ry="16"/><text class="nl na" transform="translate(811,610) rotate(12)">T3</text></g>
<g id="a-T1"><ellipse class="nd" cx="1151" cy="600" rx="12.5" ry="16"/><text class="nl na" transform="translate(1164,610) rotate(12)">T1</text></g>
<g id="a-T2"><ellipse class="nd" cx="974" cy="1129" rx="12.5" ry="16"/><text class="nl na" transform="translate(987,1139) rotate(12)">T2</text></g>
<text class="pl" x="655" y="1140">(a)</text>
</g>

<g id="nodes-b">
<g id="b-T14"><circle class="nd" cx="1570" cy="363" r="13"/><text class="nl" transform="translate(1584,372) rotate(12)">T14</text></g>
<g id="b-T13"><circle class="nd" cx="1770" cy="417" r="13"/><text class="nl" transform="translate(1784,426) rotate(12)">T13</text></g>
<g id="b-T4"><circle class="nd" cx="1970" cy="417" r="13"/><text class="nl" transform="translate(1984,426) rotate(12)">T4</text></g>
<g id="b-T3"><circle class="nd" cx="2171" cy="363" r="13"/><text class="nl" transform="translate(2185,372) rotate(12)">T3</text></g>
<g id="b-T5"><circle class="nd" cx="1770" cy="524" r="13"/><text class="nl" transform="translate(1784,533) rotate(12)">T5</text></g>
<g id="b-T12"><circle class="nd" cx="1970" cy="688" r="13"/><text class="nl" transform="translate(1984,697) rotate(12)">T12</text></g>
<g id="b-T2"><circle class="nd" cx="2372" cy="587" r="13"/><text class="nl" transform="translate(2386,596) rotate(12)">T2</text></g>
<g id="b-T1"><circle class="nd" cx="2571" cy="755" r="13"/><text class="nl" transform="translate(2585,764) rotate(12)">T1</text></g>
<g id="b-T11"><circle class="nd" cx="2172" cy="1033" r="13"/><text class="nl" transform="translate(2186,1042) rotate(12)">T11</text></g>
<g id="b-T10"><circle class="nd" cx="2372" cy="1089" r="13"/><text class="nl" transform="translate(2386,1098) rotate(12)">T10</text></g>
<g id="b-T9"><circle class="nd" cx="2571" cy="1144" r="13"/><text class="nl" transform="translate(2585,1153) rotate(12)">T9</text></g>
<g id="b-T8"><circle class="nd" cx="2773" cy="1089" r="13"/><text class="nl" transform="translate(2787,1098) rotate(12)">T8</text></g>
<text class="pl" x="2172" y="1153">(b)</text>
</g>

<g id="nodes-c">
<g id="c-T21"><circle class="nd" cx="164" cy="2131" r="11.5"/><text class="nl" transform="translate(177,2140) rotate(12)">T21</text></g>
<g id="c-T20"><circle class="nd" cx="352" cy="1754" r="11.5"/><text class="nl" transform="translate(365,1763) rotate(12)">T20</text></g>
<g id="c-T19"><circle class="nd" cx="541" cy="1816" r="11.5"/><text class="nl" transform="translate(554,1825) rotate(12)">T19</text></g>
<g id="c-T10"><circle class="nd" cx="731" cy="1651" r="11.5"/><text class="nl" transform="translate(744,1660) rotate(12)">T10</text></g>
<g id="c-T9"><circle class="nd" cx="919" cy="1684" r="11.5"/><text class="nl" transform="translate(932,1693) rotate(12)">T9</text></g>
<g id="c-T8"><circle class="nd" cx="1108" cy="1718" r="11.5"/><text class="nl" transform="translate(1121,1727) rotate(12)">T8</text></g>
<g id="c-T18"><circle class="nd" cx="731" cy="1851" r="11.5"/><text class="nl" transform="translate(744,1860) rotate(12)">T18</text></g>
<g id="c-T17"><circle class="nd" cx="919" cy="1919" r="11.5"/><text class="nl" transform="translate(932,1928) rotate(12)">T17</text></g>
<g id="c-T16"><circle class="nd" cx="1108" cy="1986" r="11.5"/><text class="nl" transform="translate(1121,1995) rotate(12)">T16</text></g>
<g id="c-T15"><circle class="nd" cx="1297" cy="1961" r="11.5"/><text class="nl" transform="translate(1310,1970) rotate(12)">T15</text></g>
<g id="c-T11"><circle class="nd" cx="541" cy="2131" r="11.5"/><text class="nl" transform="translate(554,2140) rotate(12)">T11</text></g>
<g id="c-T1"><circle class="nd" cx="919" cy="2086" r="11.5"/><text class="nl" transform="translate(932,2095) rotate(12)">T1</text></g>
<g id="c-T2"><circle class="nd" cx="731" cy="2269" r="11.5"/><text class="nl" transform="translate(744,2278) rotate(12)">T2</text></g>
<g id="c-T3"><circle class="nd" cx="541" cy="2338" r="11.5"/><text class="nl" transform="translate(554,2347) rotate(12)">T3</text></g>
<g id="c-T12"><circle class="nd" cx="352" cy="2371" r="11.5"/><text class="nl" transform="translate(365,2380) rotate(12)">T12</text></g>
<text class="pl" x="642" y="2574">(c)</text>
</g>

<g id="nodes-d">
<g id="d-T28"><circle class="nd" cx="1572" cy="2149" r="13"/><text class="nl" transform="translate(1586,2158) rotate(12)">T28</text></g>
<g id="d-T27"><circle class="nd" cx="1779" cy="1843" r="13"/><text class="nl" transform="translate(1793,1852) rotate(12)">T27</text></g>
<g id="d-T26"><circle class="nd" cx="1985" cy="1899" r="13"/><text class="nl" transform="translate(1999,1908) rotate(12)">T26</text></g>
<g id="d-T17"><circle class="nd" cx="2192" cy="1761" r="13"/><text class="nl" transform="translate(2206,1770) rotate(12)">T17</text></g>
<g id="d-T16"><circle class="nd" cx="2400" cy="1788" r="13"/><text class="nl" transform="translate(2414,1797) rotate(12)">T16</text></g>
<g id="d-T15"><circle class="nd" cx="2607" cy="1843" r="13"/><text class="nl" transform="translate(2621,1852) rotate(12)">T15</text></g>
<g id="d-T25"><circle class="nd" cx="2192" cy="1955" r="13"/><text class="nl" transform="translate(2206,1964) rotate(12)">T25</text></g>
<g id="d-T24"><circle class="nd" cx="2400" cy="1983" r="13"/><text class="nl" transform="translate(2414,1992) rotate(12)">T24</text></g>
<g id="d-T23"><circle class="nd" cx="2607" cy="2038" r="13"/><text class="nl" transform="translate(2621,2047) rotate(12)">T23</text></g>
<g id="d-T22"><circle class="nd" cx="2815" cy="2011" r="13"/><text class="nl" transform="translate(2829,2020) rotate(12)">T22</text></g>
<g id="d-T18"><circle class="nd" cx="1985" cy="2177" r="13"/><text class="nl" transform="translate(1999,2186) rotate(12)">T18</text></g>
<g id="d-T8"><circle class="nd" cx="2400" cy="2149" r="13"/><text class="nl" transform="translate(2414,2158) rotate(12)">T8</text></g>
<g id="d-T9"><circle class="nd" cx="2192" cy="2261" r="13"/><text class="nl" transform="translate(2206,2270) rotate(12)">T9</text></g>
<g id="d-T1"><circle class="nd" cx="2192" cy="2343" r="13"/><text class="nl" transform="translate(2206,2352) rotate(12)">T1</text></g>
<g id="d-T19"><circle class="nd" cx="1779" cy="2371" r="13"/><text class="nl" transform="translate(1793,2380) rotate(12)">T19</text></g>
<g id="d-T10"><circle class="nd" cx="1985" cy="2399" r="13"/><text class="nl" transform="translate(1999,2408) rotate(12)">T10</text></g>
<text class="pl" x="2174" y="2583">(d)</text>
</g>

<g id="nodes-e">
<g id="e-T35"><ellipse class="nd" cx="61" cy="3384" rx="14" ry="13"/><text class="nl" transform="translate(76,3393) rotate(12)">T35</text></g>
<g id="e-T34"><ellipse class="nd" cx="264" cy="3069" rx="14" ry="13"/><text class="nl" transform="translate(279,3078) rotate(12)">T34</text></g>
<g id="e-T33"><ellipse class="nd" cx="467" cy="3127" rx="14" ry="13"/><text class="nl" transform="translate(482,3136) rotate(12)">T33</text></g>
<g id="e-T24"><ellipse class="nd" cx="670" cy="2984" rx="14" ry="13"/><text class="nl" transform="translate(685,2993) rotate(12)">T24</text></g>
<g id="e-T23"><ellipse class="nd" cx="874" cy="3012" rx="14" ry="13"/><text class="nl" transform="translate(889,3021) rotate(12)">T23</text></g>
<g id="e-T22"><ellipse class="nd" cx="1077" cy="3069" rx="14" ry="13"/><text class="nl" transform="translate(1092,3078) rotate(12)">T22</text></g>
<g id="e-T32"><ellipse class="nd" cx="670" cy="3184" rx="14" ry="13"/><text class="nl" transform="translate(685,3193) rotate(12)">T32</text></g>
<g id="e-T31"><ellipse class="nd" cx="874" cy="3213" rx="14" ry="13"/><text class="nl" transform="translate(889,3222) rotate(12)">T31</text></g>
<g id="e-T30"><ellipse class="nd" cx="1077" cy="3270" rx="14" ry="13"/><text class="nl" transform="translate(1092,3279) rotate(12)">T30</text></g>
<g id="e-T29"><ellipse class="nd" cx="1282" cy="3242" rx="14" ry="13"/><text class="nl" transform="translate(1297,3251) rotate(12)">T29</text></g>
<g id="e-T25"><ellipse class="nd" cx="467" cy="3413" rx="14" ry="13"/><text class="nl" transform="translate(482,3422) rotate(12)">T25</text></g>
<g id="e-T15"><ellipse class="nd" cx="874" cy="3384" rx="14" ry="13"/><text class="nl" transform="translate(889,3393) rotate(12)">T15</text></g>
<g id="e-T16"><ellipse class="nd" cx="670" cy="3499" rx="14" ry="13"/><text class="nl" transform="translate(685,3508) rotate(12)">T16</text></g>
<g id="e-T8"><ellipse class="nd" cx="670" cy="3584" rx="14" ry="13"/><text class="nl" transform="translate(685,3593) rotate(12)">T8</text></g>
<g id="e-T26"><ellipse class="nd" cx="264" cy="3613" rx="14" ry="13"/><text class="nl" transform="translate(279,3622) rotate(12)">T26</text></g>
<g id="e-T17"><ellipse class="nd" cx="467" cy="3642" rx="14" ry="13"/><text class="nl" transform="translate(482,3651) rotate(12)">T17</text></g>
<text class="pl" x="641" y="3888">(e)</text>
</g>

<g id="nodes-f">
<g id="f-T42"><ellipse class="nd" cx="1584" cy="3446" rx="13" ry="12.5"/><text class="nl" transform="translate(1598,3455) rotate(12)">T42</text></g>
<g id="f-T41"><ellipse class="nd" cx="1780" cy="3105" rx="13" ry="12.5"/><text class="nl" transform="translate(1794,3114) rotate(12)">T41</text></g>
<g id="f-T40"><ellipse class="nd" cx="1975" cy="3167" rx="13" ry="12.5"/><text class="nl" transform="translate(1989,3176) rotate(12)">T40</text></g>
<g id="f-T31"><ellipse class="nd" cx="2170" cy="3013" rx="13" ry="12.5"/><text class="nl" transform="translate(2184,3022) rotate(12)">T31</text></g>
<g id="f-T30"><ellipse class="nd" cx="2367" cy="3044" rx="13" ry="12.5"/><text class="nl" transform="translate(2381,3053) rotate(12)">T30</text></g>
<g id="f-T29"><ellipse class="nd" cx="2563" cy="3105" rx="13" ry="12.5"/><text class="nl" transform="translate(2577,3114) rotate(12)">T29</text></g>
<g id="f-T39"><ellipse class="nd" cx="2170" cy="3230" rx="13" ry="12.5"/><text class="nl" transform="translate(2184,3239) rotate(12)">T39</text></g>
<g id="f-T38"><ellipse class="nd" cx="2367" cy="3261" rx="13" ry="12.5"/><text class="nl" transform="translate(2381,3270) rotate(12)">T38</text></g>
<g id="f-T37"><ellipse class="nd" cx="2563" cy="3322" rx="13" ry="12.5"/><text class="nl" transform="translate(2577,3331) rotate(12)">T37</text></g>
<g id="f-T36"><ellipse class="nd" cx="2759" cy="3292" rx="13" ry="12.5"/><text class="nl" transform="translate(2773,3301) rotate(12)">T36</text></g>
<g id="f-T32"><ellipse class="nd" cx="1975" cy="3477" rx="13" ry="12.5"/><text class="nl" transform="translate(1989,3486) rotate(12)">T32</text></g>
<g id="f-T22"><ellipse class="nd" cx="2367" cy="3446" rx="13" ry="12.5"/><text class="nl" transform="translate(2381,3455) rotate(12)">T22</text></g>
<g id="f-T23"><ellipse class="nd" cx="2170" cy="3571" rx="13" ry="12.5"/><text class="nl" transform="translate(2184,3580) rotate(12)">T23</text></g>
<g id="f-T15"><ellipse class="nd" cx="2170" cy="3662" rx="13" ry="12.5"/><text class="nl" transform="translate(2184,3671) rotate(12)">T15</text></g>
<g id="f-T33"><ellipse class="nd" cx="1780" cy="3694" rx="13" ry="12.5"/><text class="nl" transform="translate(1794,3703) rotate(12)">T33</text></g>
<g id="f-T24"><ellipse class="nd" cx="1975" cy="3725" rx="13" ry="12.5"/><text class="nl" transform="translate(1989,3734) rotate(12)">T24</text></g>
<text class="pl" x="2186" y="3948">(f)</text>
</g>

<g id="nodes-g">
<g id="g-T49"><ellipse class="nd" cx="571" cy="4622" rx="15.5" ry="12.5"/><text class="nl ng" transform="translate(587,4632) rotate(12)">T49</text></g>
<g id="g-T48"><ellipse class="nd" cx="820" cy="4365" rx="15.5" ry="12.5"/><text class="nl ng" transform="translate(836,4375) rotate(12)">T48</text></g>
<g id="g-T47"><ellipse class="nd" cx="1068" cy="4393" rx="15.5" ry="12.5"/><text class="nl ng" transform="translate(1084,4403) rotate(12)">T47</text></g>
<g id="g-T38"><ellipse class="nd" cx="1316" cy="4280" rx="15.5" ry="12.5"/><text class="nl ng" transform="translate(1332,4290) rotate(12)">T38</text></g>
<g id="g-T37"><ellipse class="nd" cx="1565" cy="4308" rx="15.5" ry="12.5"/><text class="nl ng" transform="translate(1581,4318) rotate(12)">T37</text></g>
<g id="g-T36"><ellipse class="nd" cx="1813" cy="4365" rx="15.5" ry="12.5"/><text class="nl ng" transform="translate(1829,4375) rotate(12)">T36</text></g>
<g id="g-T46"><ellipse class="nd" cx="1316" cy="4479" rx="15.5" ry="12.5"/><text class="nl ng" transform="translate(1332,4489) rotate(12)">T46</text></g>
<g id="g-T45"><ellipse class="nd" cx="1565" cy="4564" rx="15.5" ry="12.5"/><text class="nl ng" transform="translate(1581,4574) rotate(12)">T45</text></g>
<g id="g-T44"><ellipse class="nd" cx="1813" cy="4564" rx="15.5" ry="12.5"/><text class="nl ng" transform="translate(1829,4574) rotate(12)">T44</text></g>
<g id="g-T43"><ellipse class="nd" cx="2062" cy="4564" rx="15.5" ry="12.5"/><text class="nl ng" transform="translate(2078,4574) rotate(12)">T43</text></g>
<g id="g-T39"><ellipse class="nd" cx="1068" cy="4650" rx="15.5" ry="12.5"/><text class="nl ng" transform="translate(1084,4660) rotate(12)">T39</text></g>
<g id="g-T29"><ellipse class="nd" cx="1565" cy="4650" rx="15.5" ry="12.5"/><text class="nl ng" transform="translate(1581,4660) rotate(12)">T29</text></g>
<g id="g-T30"><ellipse class="nd" cx="1316" cy="4734" rx="15.5" ry="12.5"/><text class="nl ng" transform="translate(1332,4744) rotate(12)">T30</text></g>
<g id="g-T22"><ellipse class="nd" cx="1316" cy="4873" rx="15.5" ry="12.5"/><text class="nl ng" transform="translate(1332,4883) rotate(12)">T22</text></g>
<g id="g-T40"><ellipse class="nd" cx="820" cy="4845" rx="15.5" ry="12.5"/><text class="nl ng" transform="translate(836,4855) rotate(12)">T40</text></g>
<g id="g-T31"><ellipse class="nd" cx="1068" cy="4930" rx="15.5" ry="12.5"/><text class="nl ng" transform="translate(1084,4940) rotate(12)">T31</text></g>
<text class="pl" x="1195" y="5147">(g)</text>
</g>

</g>
</svg>
